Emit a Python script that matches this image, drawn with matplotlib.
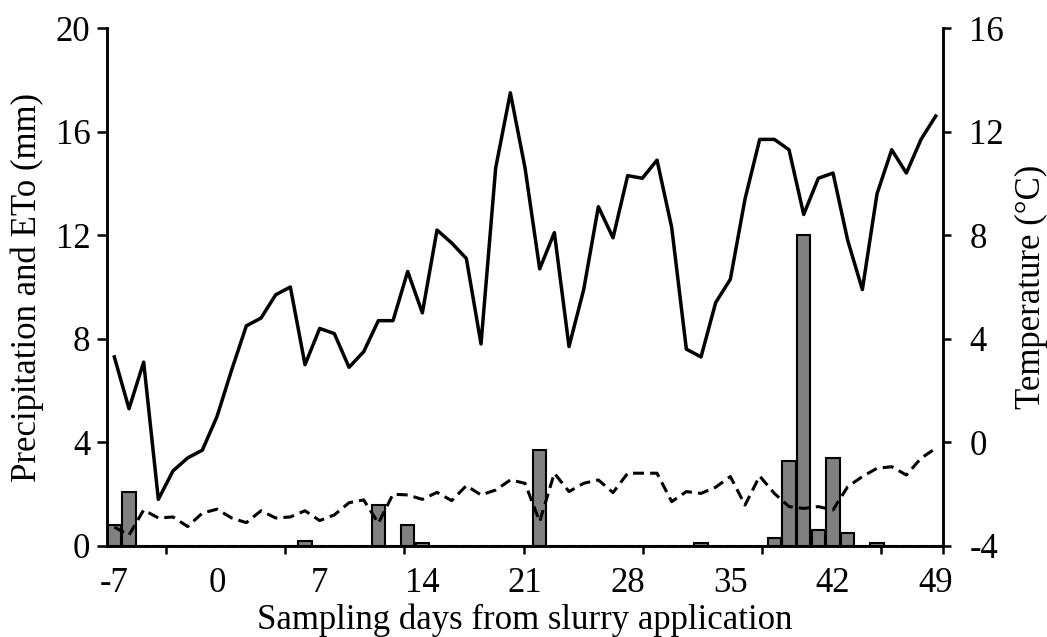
import matplotlib

matplotlib.use('Agg')

import numpy as np

import matplotlib.pyplot as plt


plt.rcParams['font.family'] = ['Liberation Serif', 'DejaVu Serif']
plt.rcParams['axes.unicode_minus'] = False


# sampling days (one category per day)
days = list(range(-7, 50))

# precipitation (mm), bars
precip = [0.8, 2.1, 0, 0, 0, 0, 0,          # -7..-1
          0, 0, 0, 0, 0, 0, 0.2,            # 0..6
          0, 0, 0, 0, 1.6, 0, 0.8,          # 7..13
          0.1, 0, 0, 0, 0, 0, 0,            # 14..20
          0, 3.7, 0, 0, 0, 0, 0,            # 21..27
          0, 0, 0, 0, 0, 0.1, 0,            # 28..34
          0, 0, 0, 0.3, 3.3, 12.0, 0.6,     # 35..41
          3.4, 0.5, 0, 0.1, 0, 0, 0,        # 42..48
          0]                                # 49

# ETo (mm), dashed line
eto = [0.73, 0.42, 1.39, 1.08, 1.12, 0.75, 1.27,
       1.42, 1.08, 0.90, 1.36, 1.08, 1.12, 1.36,
       0.98, 1.20, 1.67, 1.78, 0.88, 2.00, 1.97,
       1.80, 2.07, 1.75, 2.33, 1.97, 2.16, 2.55,
       2.42, 0.94, 2.81, 2.10, 2.42, 2.55, 2.06,
       2.81, 2.81, 2.81, 1.71, 2.10, 2.03, 2.27,
       2.68, 1.58, 2.70, 2.03, 1.52, 1.45, 1.52,
       1.39, 2.29, 2.68, 3.00, 3.06, 2.74, 3.39,
       3.77]

# mean air temperature (C), solid line on right axis
temp = [3.3, 1.3, 3.1, -2.2, -1.1, -0.6, -0.3,
        1.0, 2.8, 4.5, 4.8, 5.7, 6.0, 3.0,
        4.4, 4.2, 2.9, 3.5, 4.7, 4.7, 6.6,
        5.0, 8.2, 7.7, 7.1, 3.8, 10.6, 13.5,
        10.6, 6.7, 8.1, 3.7, 5.9, 9.1, 7.9,
        10.3, 10.2, 10.9, 8.3, 3.6, 3.3, 5.4,
        6.3, 9.4, 11.7, 11.7, 11.3, 8.8, 10.2,
        10.4, 7.8, 5.9, 9.6, 11.3, 10.4, 11.7,
        12.6]

day_ticks = [-7, 0, 7, 14, 21, 28, 35, 42, 49]
left_ticks = [0, 4, 8, 12, 16, 20]
right_ticks = [-4, 0, 4, 8, 12, 16]

FS = 25

fig = plt.figure(figsize=(10.47, 6.37), dpi=100)
ax = fig.add_axes([0.1022, 0.1429, 0.7985, 0.8131])
ax2 = ax.twinx()

# bars + ETo on the mm axis
ax.bar(days, precip, width=0.9, color='#808080', edgecolor='black', linewidth=1.5, zorder=2)
ax.plot(days, eto, color='black', linewidth=2.2, dashes=(3.6, 2.0), zorder=3)

# temperature on the right axis
ax2.plot(days, temp, color='black', linewidth=2.5)

ax.set_xlim(-7.5, 49.5)
ax.set_ylim(0, 20)
ax2.set_ylim(-4, 16)

ax.set_yticks(left_ticks)
ax.set_yticklabels([str(v) for v in left_ticks], fontsize=FS)
ax2.set_yticks(right_ticks)
ax2.set_yticklabels([str(v) for v in right_ticks], fontsize=FS)

# labels sit on the days, tick marks are spaced on their own (excel style)
ax.set_xticks(day_ticks)
ax.set_xticklabels([str(d) for d in day_ticks], fontsize=FS)
ax.set_xticks(list(np.linspace(-3.5, 45.3, 7)) + [49.5], minor=True)
ax.tick_params(axis='x', which='major', length=0, pad=15)
ax.tick_params(axis='x', which='minor', length=6, width=1.8, direction='out')
ax.tick_params(axis='y', which='major', length=7, width=1.8, direction='out', pad=5)
ax2.tick_params(axis='y', which='major', length=6, width=1.8, direction='out', pad=13)

for a in (ax, ax2):
    a.spines['top'].set_visible(False)
    for s in ('left', 'right', 'bottom'):
        a.spines[s].set_linewidth(1.8)

ax.set_ylabel('Precipitation and ETo (mm)', fontsize=FS, labelpad=8)
ax2.set_ylabel('Temperature (\u00b0C)', fontsize=FS, labelpad=8)
ax.set_xlabel('Sampling days from slurry application', fontsize=FS, labelpad=3)

fig.savefig('out.png', dpi=100)
